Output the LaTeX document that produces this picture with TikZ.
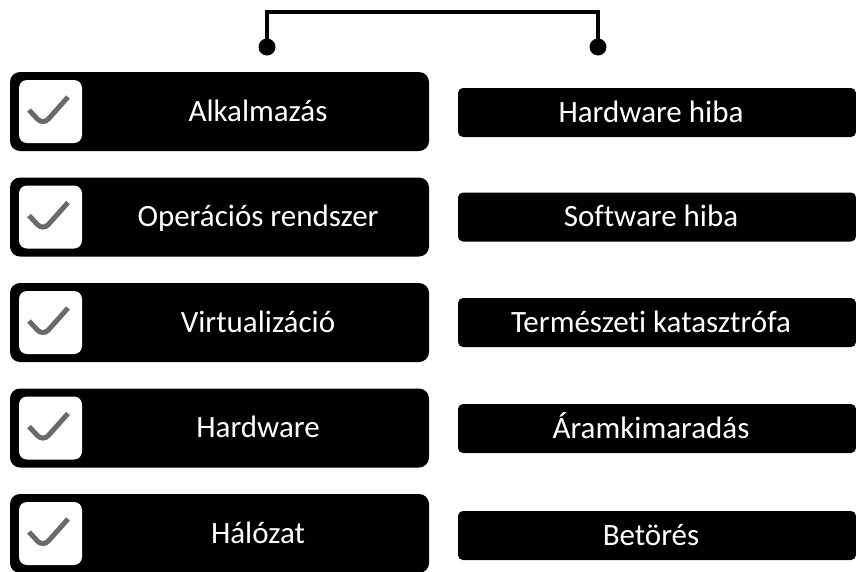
\documentclass[tikz,border=0pt]{standalone}
\usepackage{fontspec}
\setmainfont{Carlito}[RawFeature={-liga;-clig;-calt}]
\definecolor{tickgray}{HTML}{6A6A6A}

\tikzset{
  layerbox/.style={fill=black, rounded corners=10pt, minimum width=419pt, minimum height=79pt, inner sep=0pt},
  riskbox/.style={fill=black, rounded corners=5pt, minimum width=398pt, minimum height=49pt, inner sep=0pt},
  checkbox/.style={fill=white, rounded corners=8pt, minimum size=63pt, inner sep=0pt,
    path picture={\draw[tickgray, line width=5pt]
      ([shift={(-21.5pt,1.5pt)}]path picture bounding box.center) -- ++(14pt,-15pt) -- ++(25pt,28pt);}},
  lbl/.style={text=white, anchor=base, inner sep=0pt, font=\fontsize{31}{37}\selectfont},
  pin/.style={circle, fill=black, minimum size=17pt, inner sep=0pt},
  conn/.style={line width=4pt}
}

\begin{document}
\begin{tikzpicture}[x=1pt, y=-1pt]
\useasboundingbox (0,0) rectangle (856,571);

% connector
\node[pin] (pinL) at (267,47) {};
\node[pin] (pinR) at (598,47) {};
\coordinate (bar) at (432,12);
\draw[conn] (pinL.center) |- (bar) -| (pinR.center);

% layers
\node[layerbox] (app) at (219.5,111.5) {};
\node[checkbox] (appC) at (50.5,111.5) {};
\node[lbl] (appT) at (258,121) {Alkalmazás};

\node[layerbox] (os) at (219.5,217) {};
\node[checkbox] (osC) at (50.5,217) {};
\node[lbl] (osT) at (258,226.5) {Operációs rendszer};

\node[layerbox] (virt) at (219.5,322.5) {};
\node[checkbox] (virtC) at (50.5,322.5) {};
\node[lbl] (virtT) at (258,332) {Virtualizáció};

\node[layerbox] (hw) at (219.5,428) {};
\node[checkbox] (hwC) at (50.5,428) {};
\node[lbl] (hwT) at (258,437.5) {Hardware};

\node[layerbox] (net) at (219.5,533.5) {};
\node[checkbox] (netC) at (50.5,533.5) {};
\node[lbl] (netT) at (258,543) {Hálózat};

% risks
\node[riskbox] (hwerr) at (657,112.5) {};
\node[lbl] (hwerrT) at (651,122) {Hardware hiba};

\node[riskbox] (swerr) at (657,217) {};
\node[lbl] (swerrT) at (651,226.5) {Software hiba};

\node[riskbox] (disaster) at (657,322.5) {};
\node[lbl] (disasterT) at (651,332) {Természeti katasztrófa};

\node[riskbox] (power) at (657,428.5) {};
\node[lbl] (powerT) at (651,438) {Áramkimaradás};

\node[riskbox] (breakin) at (657,535.5) {};
\node[lbl] (breakinT) at (651,545) {Betörés};

\end{tikzpicture}
\end{document}
